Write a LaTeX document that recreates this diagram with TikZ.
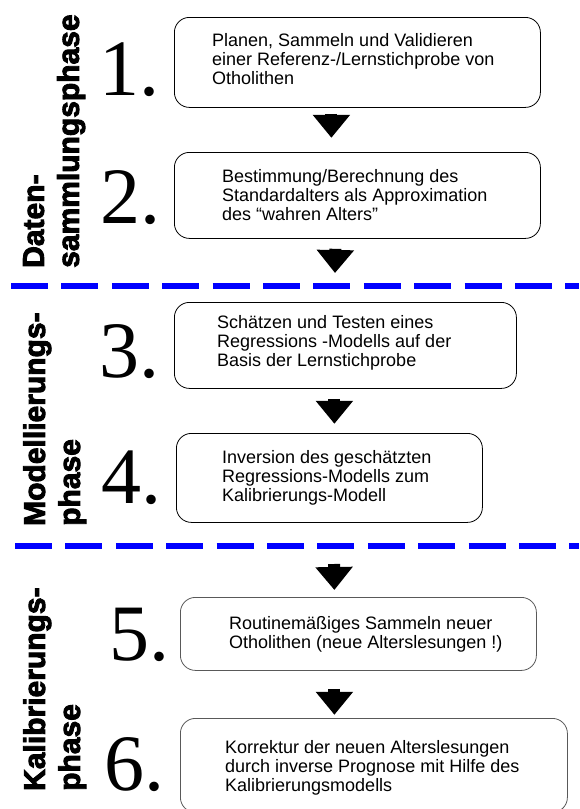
\documentclass[tikz,border=0pt]{standalone}
\usepackage{fontspec}
\setmainfont{Liberation Sans}
\newfontfamily\numfont{Liberation Serif}
\newfontfamily\phasefont{Liberation Sans Bold}
\newcommand{\heavy}[1]{\special{pdf:literal direct 2 Tr 0.9 w}#1\special{pdf:literal direct 0 Tr}}
\usetikzlibrary{arrows.meta}

\begin{document}
\begin{tikzpicture}[x=1pt,y=-1pt,
font=\fontsize{18}{19}\selectfont,
bigarrow/.style={line width=12pt, -{Triangle[width=36pt,length=23pt]}}]
\tikzstyle{stepbox} = [draw, rounded corners=15pt, line width=0.8pt, anchor=north west, inner sep=0pt]
\tikzstyle{steptext} = [anchor=west, align=left, inner sep=0pt]
\tikzstyle{stepnum} = [anchor=base west, inner sep=0pt, font=\numfont\fontsize{80}{80}\selectfont]
\tikzstyle{phase} = [rotate=90, anchor=north west, align=left, inner sep=0pt, font=\phasefont\fontsize{30}{35}\selectfont]
\tikzstyle{border} = [blue, line width=6pt, dash pattern=on 37pt off 13.4pt]

\clip (0,0) rectangle (579,809);

% phases
\draw[border] (11,286) -- (579,286);
\draw[border] (15,546) -- (579,546);

\node[phase](p1) at (23,268){\heavy{Daten-}\\\heavy{sammlungsphase}};
\node[phase](p2) at (23,526){\heavy{Modellierungs-}\\\heavy{phase}};
\node[phase](p3) at (23,791){\heavy{Kalibrierungs-}\\\heavy{phase}};

% steps
\node[stepbox, minimum width=366pt, minimum height=90pt](b1) at (174,17){};
\node[steptext](t1) at ([xshift=38pt,yshift=3pt]b1.west){Planen, Sammeln und Validieren\\einer Referenz-/Lernstichprobe von\\Otholithen};
\node[stepnum](n1) at (99,95){1.};

\node[stepbox, minimum width=366pt, minimum height=86pt](b2) at (174,152){};
\node[steptext](t2) at ([xshift=48pt]b2.west){Bestimmung/Berechnung des\\Standardalters als Approximation\\des “wahren Alters”};
\node[stepnum](n2) at (100,223){2.};

\node[stepbox, minimum width=342pt, minimum height=86pt](b3) at (174,302){};
\node[steptext](t3) at ([xshift=43pt,yshift=3pt]b3.west){Schätzen und Testen eines\\Regressions -Modells auf der\\Basis der Lernstichprobe};
\node[stepnum](n3) at (99,377){3.};

\node[stepbox, minimum width=306pt, minimum height=89pt](b4) at (176,433){};
\node[steptext](t4) at ([xshift=46pt]b4.west){Inversion des geschätzten\\Regressions-Modells zum\\Kalibrierungs-Modell};
\node[stepnum](n4) at (101,503){4.};

\node[stepbox, draw=black!65, minimum width=356pt, minimum height=73pt](b5) at (180,597){};
\node[steptext](t5) at ([xshift=49pt]b5.west){Routinemäßiges Sammeln neuer\\Otholithen (neue Alterslesungen !)};
\node[stepnum](n5) at (109,660){5.};

\node[stepbox, draw=black!65, minimum width=387pt, minimum height=94pt](b6) at (180,718){};
\node[steptext](t6) at ([xshift=45pt,yshift=-2pt]b6.west){Korrektur der neuen Alterslesungen\\durch inverse Prognose mit Hilfe des\\Kalibrierungsmodells};
\node[stepnum](n6) at (104,790){6.};

% arrows
\coordinate(e2) at (335,273);
\coordinate(s4) at (334,564);
\draw[bigarrow] ([xshift=-26pt,yshift=-6pt]b1.south) -- ++(0,24);
\draw[bigarrow] ([xshift=-22pt,yshift=-10pt]b2.south) -- (e2);
\draw[bigarrow] ([xshift=-11pt,yshift=-10pt]b3.south) -- ++(0,25);
\draw[bigarrow] (s4) -- ([xshift=-24pt,yshift=7pt]b5.north);
\draw[bigarrow] ([xshift=-24pt,yshift=-18pt]b5.south) -- ++(0,26);

\end{tikzpicture}
\end{document}
